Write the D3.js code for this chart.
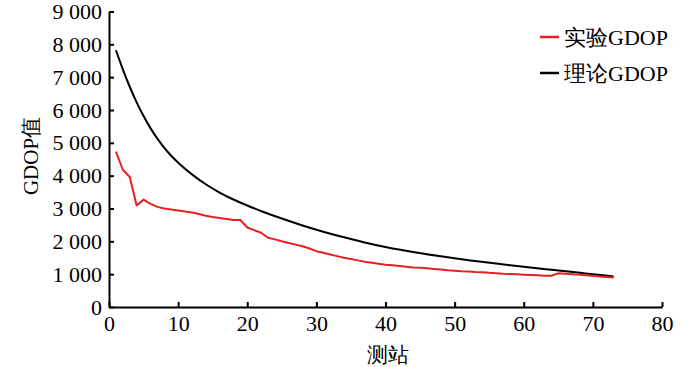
<!DOCTYPE html>
<html>
<head>
<meta charset="utf-8">
<script src="https://cdn.jsdelivr.net/npm/d3@7"></script>
<style>
  body { margin: 0; background: #fff; }
</style>
</head>
<body>
<svg id="chart" width="700" height="367"></svg>
<script>
// theoretical GDOP (station, value)
var theoryStations = [1, 2, 3, 4, 5, 6, 7, 8, 9, 10, 12, 14, 16, 18, 20, 22, 25, 28, 31, 34, 37, 40, 44, 48, 52, 56, 60, 64, 68, 73];
var theoryValues = [7820, 7230, 6700, 6220, 5810, 5440, 5120, 4840, 4600, 4390, 4030, 3730, 3480, 3270, 3090, 2920, 2690, 2480, 2290, 2120, 1965, 1820, 1670, 1540, 1425, 1320, 1225, 1135, 1045, 930];

// experimental GDOP, one value per station 1..73
var expValues = [4730, 4180, 3960, 3090, 3270, 3140, 3050, 3000, 2970, 2940,
                 2910, 2880, 2830, 2780, 2740, 2710, 2680, 2650, 2650, 2420,
                 2340, 2260, 2110, 2060, 2000, 1950, 1900, 1850, 1780, 1700,
                 1650, 1600, 1550, 1500, 1460, 1420, 1380, 1350, 1320, 1290,
                 1270, 1250, 1225, 1205, 1195, 1180, 1160, 1140, 1120, 1105,
                 1090, 1080, 1065, 1055, 1040, 1030, 1015, 1005, 995, 985,
                 975, 965, 955, 950, 1025, 1010, 995, 980, 965, 950,
                 930, 910, 895];

var xTicks = [0, 10, 20, 30, 40, 50, 60, 70, 80];
var yTicks = [0, 1000, 2000, 3000, 4000, 5000, 6000, 7000, 8000, 9000];
var legendLabels = ['实验GDOP', '理论GDOP'];
var legendColors = ['#e8201f', '#000000'];

function fontStyle(size) {
  return "font-family:'Liberation Serif';font-size:" + size + "px";
}

var margin = {top: 11.5, right: 38, bottom: 60, left: 109},
    width = 700 - margin.left - margin.right,
    height = 367 - margin.top - margin.bottom;

var x = d3.scaleLinear().domain([0, 80]).range([0, width]);
var y = d3.scaleLinear().domain([0, 9000]).range([height, 0]);

var fmt = d3.formatLocale({decimal: '.', thousands: ' ', grouping: [3], currency: ['', '']}).format(',d');

var svg = d3.select('#chart');

var vis = svg.append('g')
    .attr('transform', 'translate(' + margin.left + ',' + margin.top + ')');

// x axis, ticks pointing inward
var xAxis = vis.append('g')
    .attr('transform', 'translate(0,' + height + ')')
    .call(d3.axisBottom(x).tickValues(xTicks).tickSizeInner(-5).tickSizeOuter(0).tickPadding(8));

// y axis
var yAxis = vis.append('g')
    .call(d3.axisLeft(y).tickValues(yTicks).tickFormat(fmt).tickSizeInner(-5).tickSizeOuter(0).tickPadding(7));

[xAxis, yAxis].forEach(function(ax) {
  ax.attr('font-family', null).attr('font-size', null);
  ax.selectAll('path, line').attr('stroke', '#000').attr('stroke-width', 2);
  ax.selectAll('text').attr('fill', '#000').attr('style', fontStyle(22));
});

// lines
var line = d3.line()
    .x(function(d) { return x(d[0]); })
    .y(function(d) { return y(d[1]); });

var theory = theoryStations.map(function(s, i) { return [s, theoryValues[i]]; });
var exp = expValues.map(function(v, i) { return [i + 1, v]; });

vis.append('path')
    .datum(theory)
    .attr('fill', 'none')
    .attr('stroke', legendColors[1])
    .attr('stroke-width', 2)
    .attr('d', line.curve(d3.curveBasis));

vis.append('path')
    .datum(exp)
    .attr('fill', 'none')
    .attr('stroke', legendColors[0])
    .attr('stroke-width', 2)
    .attr('stroke-linejoin', 'round')
    .attr('d', line.curve(d3.curveLinear));

// axis titles
svg.append('text')
    .attr('x', 388)
    .attr('y', 355)
    .attr('text-anchor', 'middle')
    .attr('dominant-baseline', 'central')
    .attr('style', fontStyle(21))
    .text('测站');

svg.append('text')
    .attr('transform', 'translate(31,156) rotate(-90)')
    .attr('text-anchor', 'middle')
    .attr('dominant-baseline', 'central')
    .attr('style', fontStyle(21))
    .text('GDOP值');

// legend
var legend = svg.append('g');
legendLabels.forEach(function(lab, i) {
  var ly = 37 + i * 36;
  legend.append('line')
      .attr('x1', 540).attr('x2', 559)
      .attr('y1', ly).attr('y2', ly)
      .attr('stroke', legendColors[i])
      .attr('stroke-width', 2.5);
  legend.append('text')
      .attr('x', 564)
      .attr('y', ly)
      .attr('dominant-baseline', 'central')
      .attr('style', fontStyle(22))
      .text(lab);
});
</script>
</body>
</html>
